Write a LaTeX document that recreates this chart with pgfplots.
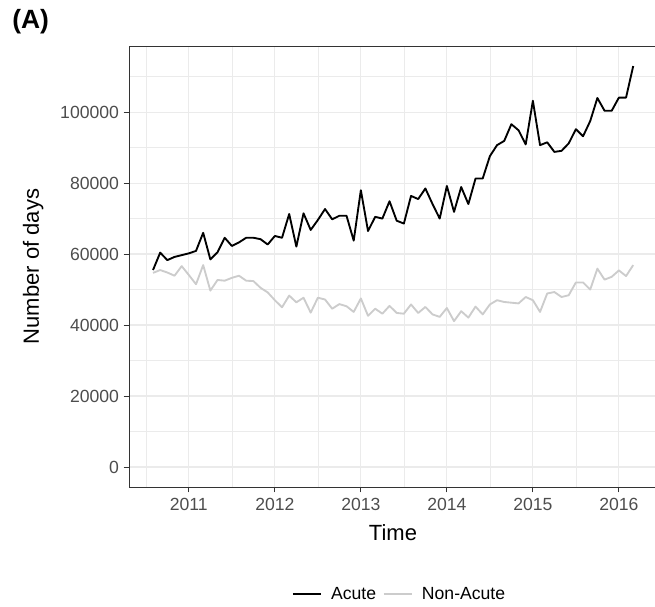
\documentclass[border=0pt]{standalone}
\usepackage{fontspec}
\setmainfont{Liberation Sans}
\usepackage{pgfplots}
\usepackage{pgfplotstable}
\pgfplotsset{compat=1.18}
\definecolor{tickgray}{HTML}{4D4D4D}
\definecolor{bordergray}{HTML}{333333}
\definecolor{gridc}{HTML}{EBEBEB}
\definecolor{nonacute}{HTML}{CCCCCC}

% x = month index (0 = Aug 2010, 67 = Mar 2016)
\pgfplotstableread{
n val
0 55500
1 60400
2 58300
3 59200
4 59700
5 60200
6 60900
7 66000
8 58500
9 60500
10 64600
11 62300
12 63300
13 64600
14 64600
15 64200
16 62700
17 65100
18 64600
19 71300
20 62100
21 71500
22 66800
23 69600
24 72700
25 69800
26 70800
27 70800
28 63800
29 78000
30 66500
31 70500
32 70000
33 74900
34 69400
35 68600
36 76400
37 75500
38 78500
39 74100
40 70000
41 79200
42 71900
43 78900
44 74100
45 81300
46 81300
47 87600
48 90700
49 91900
50 96600
51 94900
52 90900
53 103200
54 90700
55 91500
56 88800
57 89100
58 91200
59 95200
60 93200
61 97500
62 104000
63 100400
64 100400
65 104100
66 104100
67 113000
}\acute

\pgfplotstableread{
n val
0 54700
1 55500
2 54800
3 53900
4 56600
5 54100
6 51500
7 56900
8 49700
9 52700
10 52500
11 53300
12 53900
13 52500
14 52400
15 50500
16 49200
17 47000
18 45000
19 48300
20 46400
21 47700
22 43500
23 47700
24 47200
25 44600
26 45900
27 45300
28 43700
29 47500
30 42600
31 44600
32 43200
33 45400
34 43400
35 43200
36 45800
37 43400
38 45100
39 43000
40 42300
41 44800
42 41100
43 43900
44 42100
45 45200
46 43000
47 45800
48 47000
49 46500
50 46300
51 46100
52 47900
53 47000
54 43700
55 48900
56 49300
57 47900
58 48400
59 52000
60 52000
61 50000
62 55900
63 52800
64 53600
65 55400
66 53800
67 56900
}\nonacutetab

\begin{document}
\begin{tikzpicture}
\begin{axis}[
  name=ax,
  scale only axis,
  width=396.75pt, height=330.75pt,
  xmin=-3.35, xmax=70.46,
  ymin=-5650, ymax=118650,
  axis line style={bordergray, line width=0.6pt},
  xtick={5,17,29,41,53,65},
  xticklabels={2011,2012,2013,2014,2015,2016},
  minor xtick={-1,11,23,35,47,59},
  ytick={0,20000,40000,60000,80000,100000},
  minor ytick={10000,30000,50000,70000,90000,110000},
  grid=both,
  major grid style={gridc, line width=0.9pt},
  minor grid style={gridc, line width=0.5pt},
  major tick style={bordergray, line width=0.6pt},
  major tick length=4pt,
  minor tick length=0pt,
  tick align=outside,
  xtick pos=lower, ytick pos=left,
  tick label style={font=\fontsize{13.2}{15}\selectfont, text=tickgray},
  /pgf/number format/assume math mode=true,
  yticklabel style={/pgf/number format/fixed, /pgf/number format/1000 sep={}},
  scaled y ticks=false,
  xticklabel style={yshift=-1pt},
  xlabel={Time},
  ylabel={Number of days},
  every axis x label/.style={at={(axis description cs:0.499,-0.104)}, anchor=center, font=\fontsize{16.5}{19}\selectfont, text=black},
  every axis y label/.style={at={(axis description cs:-0.181,0.5)}, rotate=90, anchor=center, font=\fontsize{16.5}{19}\selectfont, text=black},
  legend columns=2,
  legend style={at={(axis description cs:0.512,-0.243)}, anchor=center, draw=none, fill=none,
    font=\fontsize{13.2}{15}\selectfont,
    /tikz/every even column/.append style={column sep=3pt}},
  legend image code/.code={\draw[#1] (0pt,0pt) -- (21pt,0pt); \path (26pt,0pt);},
]
\addplot[black, line width=1.4pt, line join=round] table[x=n, y=val] {\acute};
\addlegendentry{Acute}
\addplot[nonacute, line width=1.4pt, line join=round] table[x=n, y=val] {\nonacutetab};
\addlegendentry{Non-Acute}
\coordinate (O) at (rel axis cs:0,0);
\end{axis}
\node[font=\bfseries\fontsize{19.8}{22}\selectfont, anchor=west] at ([shift={(-91pt,348.75pt)}]O) {(A)};
\pgfresetboundingbox
\path[use as bounding box] ([shift={(-96.75pt,-89.25pt)}]O) rectangle ([shift={(394.5pt,365.25pt)}]O);
\end{tikzpicture}
\end{document}
